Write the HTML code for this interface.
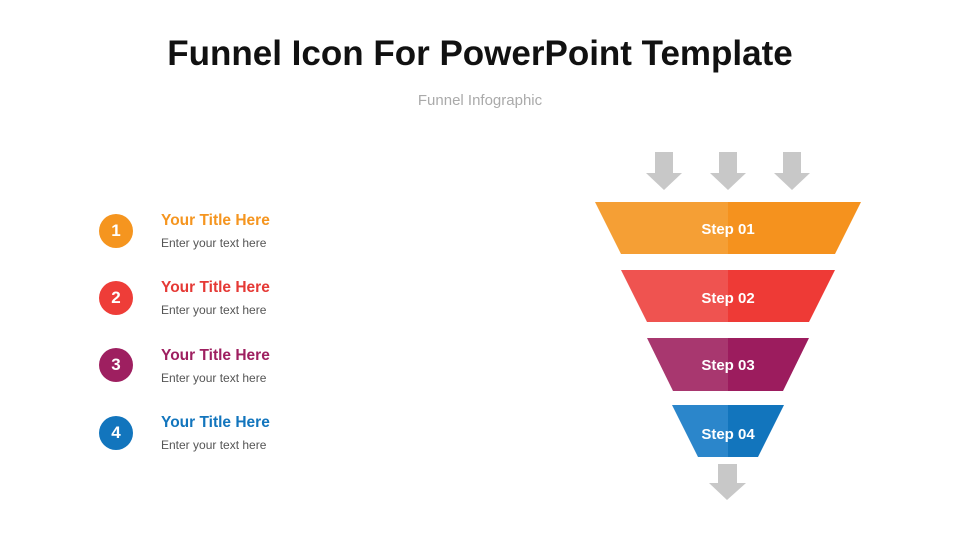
<!DOCTYPE html>
<html><head><meta charset="utf-8"><style>
body{margin:0;width:960px;height:540px;background:#fff;position:relative;overflow:hidden;font-family:"Liberation Sans",Arial,sans-serif}
.t{position:absolute;left:0;width:960px;text-align:center}
.c{position:absolute;left:99px;width:34px;height:34px;border-radius:50%;color:#fff;font-weight:bold;font-size:17px;line-height:34px;text-align:center}
.h{position:absolute;left:161px;font-weight:bold;font-size:15.5px}
.s{position:absolute;left:161px;font-size:12px;color:#555}
</style></head><body>
<div class="t" style="top:34px;font-size:35px;font-weight:bold;color:#111">Funnel Icon For PowerPoint Template</div>
<div class="t" style="top:92px;font-size:15px;color:#aaa">Funnel Infographic</div>

<div class="c" style="top:214px;background:#F5951F">1</div>
<div class="h" style="top:212px;color:#F5951F">Your Title Here</div>
<div class="s" style="top:236px">Enter your text here</div>
<div class="c" style="top:281px;background:#EE3D38">2</div>
<div class="h" style="top:279px;color:#E53935">Your Title Here</div>
<div class="s" style="top:303px">Enter your text here</div>
<div class="c" style="top:348px;background:#9E1F60">3</div>
<div class="h" style="top:347px;color:#9E1F60">Your Title Here</div>
<div class="s" style="top:371px">Enter your text here</div>
<div class="c" style="top:416px;background:#1275BD">4</div>
<div class="h" style="top:414px;color:#1275BD">Your Title Here</div>
<div class="s" style="top:438px">Enter your text here</div>

<svg width="960" height="540" style="position:absolute;left:0;top:0">
<g fill="#C8C8C8">
<polygon points="655,152 673,152 673,173 682,173 664,190 646,173 655,173"/>
<polygon points="719,152 737,152 737,173 746,173 728,190 710,173 719,173"/>
<polygon points="783,152 801,152 801,173 810,173 792,190 774,173 783,173"/>
<polygon points="718,464 737,464 737,483 746,483 727,500 709,483 718,483"/>
</g>
<polygon points="595,202 728,202 728,254 621,254" fill="#F59F35"/>
<polygon points="728,202 861,202 835,254 728,254" fill="#F5921E"/>
<polygon points="621,270 728,270 728,322 647,322" fill="#EF5350"/>
<polygon points="728,270 835,270 809,322 728,322" fill="#EE3A36"/>
<polygon points="647,338 728,338 728,391 673,391" fill="#A8376F"/>
<polygon points="728,338 809,338 783,391 728,391" fill="#9C1C5E"/>
<polygon points="672,405 728,405 728,457 698,457" fill="#2B86CB"/>
<polygon points="728,405 784,405 758,457 728,457" fill="#1275BD"/>
<g fill="#fff" font-family="Liberation Sans, Arial, sans-serif" font-weight="bold" font-size="15" text-anchor="middle">
<text x="728" y="234">Step 01</text>
<text x="728" y="303">Step 02</text>
<text x="728" y="370">Step 03</text>
<text x="728" y="439">Step 04</text>
</g>
</svg>
</body></html>
